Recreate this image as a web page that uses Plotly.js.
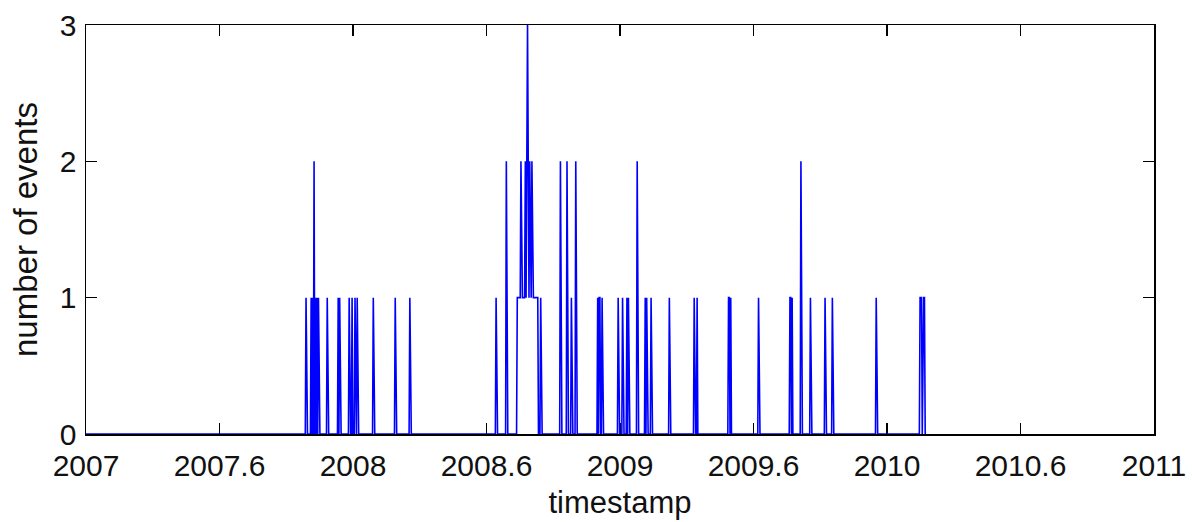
<!DOCTYPE html>
<html>
<head>
<meta charset="utf-8">
<script src="https://cdn.plot.ly/plotly-3.0.1.min.js"></script>
<style>html,body{margin:0;padding:0;background:#fff;}#chart{width:1192px;height:522px;}</style>
</head>
<body>
<div id="chart"></div>
<script>
// Days since 2007-01-01 on which events occurred, with the number of events that day
const eventDay = [
  301, 308, 310, 312, 314, 316, 318, 330, 345, 347, 360, 364, 368, 371, 393, 423, 443,
  561, 575,
  590, 591, 592, 593, 594, 595, 596, 597, 598, 599, 600, 601, 602, 603, 604, 605, 606, 607,
  608, 609, 610, 611, 612, 613, 614, 615, 616, 617, 618,
  622, 649, 658, 664, 670, 700, 702, 703, 706, 728, 734, 740, 742, 754, 765, 767, 773, 798,
  832, 836,
  879, 880, 882, 920, 963, 964, 966, 978, 991, 1011, 1021, 1081,
  1141, 1142, 1143, 1145, 1146, 1147
];
const eventCount = [
  1, 1, 1, 2, 1, 1, 1, 1, 1, 1, 1, 1, 1, 1, 1, 1, 1,
  1, 2,
  1, 1, 1, 1, 1, 2, 1, 1, 1, 1, 1, 2, 1, 2, 3, 2, 1, 2,
  1, 1, 2, 1, 1, 1, 1, 1, 1, 1, 1,
  1, 2, 2, 1, 2, 1, 1, 1, 1, 1, 1, 1, 1, 2, 1, 1, 1, 1,
  1, 1,
  1, 1, 1, 1, 1, 1, 1, 2, 1, 1, 1, 1,
  1, 1, 1, 1, 1, 1
];
const startYear = 2007;
const tickValues = [2007, 2007.5, 2008, 2008.5, 2009, 2009.5, 2010, 2010.5, 2011];
const tickLabels = ['2007', '2007.6', '2008', '2008.6', '2009', '2009.6', '2010', '2010.6', '2011'];
const yTicks = [0, 1, 2, 3];

// daily series: days with no listed event have zero events
const lastDay = Math.max(...eventDay) + 1;
const counts = new Array(lastDay + 1).fill(0);
eventDay.forEach((d, i) => { counts[d] = eventCount[i]; });
const xs = counts.map((_, d) => startYear + d / 365.25);

const fontFam = '"Liberation Sans", Arial, Helvetica, sans-serif';
const axisCommon = {
  showline: true, linecolor: '#000', linewidth: 1.5,
  mirror: 'allticks', ticks: 'inside', ticklen: 11, tickwidth: 1.5, tickcolor: '#000',
  showgrid: false, zeroline: false, layer: 'below traces',
  tickfont: {family: fontFam, size: 30, color: '#111'}
};

Plotly.newPlot('chart', [{
  x: xs, y: counts, type: 'scatter', mode: 'lines',
  line: {color: '#0000ff', width: 1.6},
  hoverinfo: 'skip'
}], {
  width: 1192, height: 522,
  margin: {l: 86, r: 38, t: 25, b: 88},
  paper_bgcolor: '#fff', plot_bgcolor: '#fff',
  showlegend: false,
  xaxis: Object.assign({}, axisCommon, {
    range: [2007, 2011], tickmode: 'array', tickvals: tickValues, ticktext: tickLabels,
    ticklabelstandoff: 4,
    title: {text: 'timestamp', font: {family: fontFam, size: 31, color: '#111'}, standoff: 11}
  }),
  yaxis: Object.assign({}, axisCommon, {
    range: [0, 3], tickmode: 'array', tickvals: yTicks,
    ticklabelstandoff: 2,
    title: {text: 'number of events', font: {family: fontFam, size: 33, color: '#111'}, standoff: 12}
  })
}, {staticPlot: true});
</script>
</body>
</html>
